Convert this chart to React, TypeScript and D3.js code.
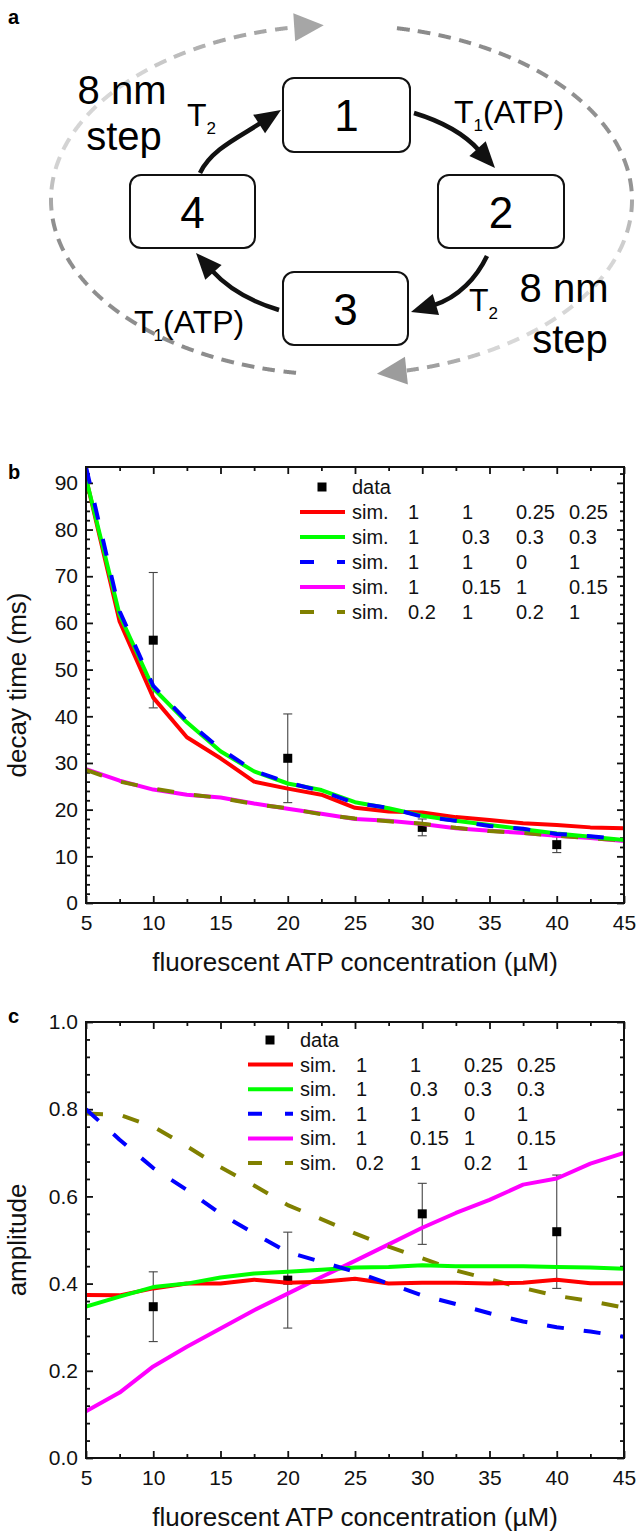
import React, { useEffect, useRef } from 'react';
import * as d3 from 'd3';

const W = 639;
const H = 1531;
const FONT = '"Liberation Sans", Arial, Helvetica, sans-serif';

// ATP concentrations (µM)
const simConc = [5, 7.5, 10, 12.5, 15, 17.5, 20, 22.5, 25, 27.5, 30, 32.5, 35, 37.5, 40, 42.5, 45];
const dataConc = [10, 20, 30, 40];

// panel b: decay time (ms)
const decayData = [56.3, 31.0, 16.2, 12.5];
const decayErr = [14.5, 9.5, 1.8, 1.7];
const decayRed = [91, 60.3, 44, 35.5, 31, 26, 24.5, 23.2, 20.4, 19.6, 19.4, 18.4, 17.8, 17.1, 16.7, 16.2, 16.0];
const decayGreen = [91, 61.7, 46, 38.7, 32.5, 28.2, 25.6, 24.2, 21.6, 20.3, 18.7, 17.6, 16.7, 15.8, 14.9, 14.2, 13.5];
const decayBlue = [93.4, 62.5, 46.5, 39, 33, 28.3, 25.8, 24, 21.4, 20.4, 18.5, 17.6, 16.5, 15.9, 14.8, 14.3, 13.6];
const decayMagenta = [28.7, 26.2, 24.3, 23.2, 22.6, 21.3, 20.2, 19.1, 18.0, 17.6, 16.9, 16.0, 15.5, 15.0, 14.4, 13.9, 13.3];
const decayOlive = [28.5, 26.0, 24.5, 23.3, 22.5, 21.2, 20.3, 19.0, 18.1, 17.5, 17.0, 16.1, 15.4, 15.0, 14.4, 13.9, 13.4];

// panel c: amplitude
const ampData = [0.347, 0.408, 0.56, 0.519];
const ampErr = [0.08, 0.11, 0.07, 0.13];
const ampRed = [0.374, 0.373, 0.389, 0.40, 0.40, 0.409, 0.402, 0.404, 0.411, 0.40, 0.402, 0.402, 0.40, 0.402, 0.409, 0.401, 0.401];
const ampGreen = [0.347, 0.37, 0.392, 0.40, 0.414, 0.423, 0.427, 0.432, 0.437, 0.438, 0.442, 0.44, 0.44, 0.44, 0.438, 0.437, 0.434];
const ampBlue = [0.80, 0.73, 0.665, 0.615, 0.56, 0.515, 0.472, 0.45, 0.427, 0.40, 0.373, 0.353, 0.332, 0.313, 0.30, 0.29, 0.278];
const ampMagenta = [0.107, 0.15, 0.21, 0.255, 0.297, 0.339, 0.377, 0.415, 0.452, 0.49, 0.528, 0.562, 0.592, 0.627, 0.641, 0.675, 0.70];
const ampOlive = [0.79, 0.787, 0.76, 0.715, 0.667, 0.625, 0.58, 0.548, 0.515, 0.485, 0.458, 0.43, 0.41, 0.39, 0.372, 0.36, 0.345];

const xTicks = [5, 10, 15, 20, 25, 30, 35, 40, 45];
const xMinor = [7.5, 12.5, 17.5, 22.5, 27.5, 32.5, 37.5, 42.5];
const decayTicks = [0, 10, 20, 30, 40, 50, 60, 70, 80, 90];
const ampTicks = [0, 0.2, 0.4, 0.6, 0.8, 1.0];

const seriesColors = ['#ff0000', '#00ff00', '#0000ff', '#ff00ff', '#808000'];
const seriesDashed = [false, false, true, false, true];
const drawOrder = [3, 4, 0, 1, 2];
const legendRows = [
  ['sim.', '1', '1', '0.25', '0.25'],
  ['sim.', '1', '0.3', '0.3', '0.3'],
  ['sim.', '1', '1', '0', '1'],
  ['sim.', '1', '0.15', '1', '0.15'],
  ['sim.', '0.2', '1', '0.2', '1'],
];
const legendCols = [0, 56, 110, 164, 217];

// panel a: kinetic scheme
const states = [
  { label: '1', x: 283, y: 78, w: 127, h: 74 },
  { label: '2', x: 438, y: 175, w: 126, h: 73 },
  { label: '3', x: 283, y: 272, w: 125, h: 73 },
  { label: '4', x: 130, y: 175, w: 125, h: 73 },
];
const transitions = [
  { p0: [414, 113], d0: [0.96, 0.29], p1: [495, 168], d1: [0.67, 0.74] },
  { p0: [487, 256], d0: [-0.43, 0.9], p1: [411, 312], d1: [-0.96, 0.29] },
  { p0: [279, 310], d0: [-0.96, -0.29], p1: [196, 253], d1: [-0.67, -0.74] },
  { p0: [200, 173], d0: [0.43, -0.9], p1: [281, 110], d1: [0.84, -0.54] },
];
const ELL = { cx: 341.5, cy: 200, rx: 290.5, ry: 175 };

type Pt = [number, number];

function norm(v: Pt): Pt {
  const l = Math.hypot(v[0], v[1]);
  return [v[0] / l, v[1] / l];
}

function drawEllipseArc(g: any, t0: number, t1: number, color: (t: number) => string, arrowColor: string) {
  const n = 2000;
  const pts = d3.range(n + 1).map((i) => {
    const t = t0 + ((t1 - t0) * i) / n;
    const r = (t * Math.PI) / 180;
    return { t, x: ELL.cx + ELL.rx * Math.cos(r), y: ELL.cy + ELL.ry * Math.sin(r), s: 0 };
  });
  for (let i = 1; i <= n; i++) {
    pts[i].s = pts[i - 1].s + Math.hypot(pts[i].x - pts[i - 1].x, pts[i].y - pts[i - 1].y);
  }
  const arrowLen = 30;
  const stop = pts[n].s - arrowLen;
  const dash = 13;
  const gap = 8;
  for (let s = 0; s < stop; s += dash + gap) {
    const e = Math.min(s + dash, stop);
    const seg = pts.filter((p) => p.s >= s && p.s <= e);
    if (seg.length < 2) continue;
    const mid = seg[Math.floor(seg.length / 2)];
    g.append('path')
      .attr('d', d3.line()(seg.map((p) => [p.x, p.y] as Pt)))
      .attr('fill', 'none')
      .attr('stroke', color(mid.t))
      .attr('stroke-width', 4);
  }
  const tip = pts[n];
  const baseP = pts.find((p) => p.s >= stop)!;
  const dir = norm([tip.x - baseP.x, tip.y - baseP.y]);
  const perp: Pt = [-dir[1], dir[0]];
  const hw = 14;
  g.append('path')
    .attr('d', `M${tip.x},${tip.y}L${baseP.x + perp[0] * hw},${baseP.y + perp[1] * hw}L${baseP.x - perp[0] * hw},${baseP.y - perp[1] * hw}Z`)
    .attr('fill', arrowColor);
}

function drawScheme(svg: any) {
  const g = svg.append('g');

  const leftColor = d3.scaleLinear<string>()
    .domain([99, 172, 190, 225, 245, 267])
    .range(['#8c8c8c', '#8f8f8f', '#d2d2d2', '#d8d8d8', '#a8a8a8', '#a4a4a4'])
    .clamp(true);
  const rightColor = d3.scaleLinear<string>()
    .domain([281, 355, 378, 418, 430, 444])
    .range(['#8a8a8a', '#949494', '#d6d6d6', '#d8d8d8', '#a0a0a0', '#9c9c9c'])
    .clamp(true);
  drawEllipseArc(g, 99, 266.5, leftColor, '#a6a6a6');
  drawEllipseArc(g, 281, 443, rightColor, '#9c9c9c');

  // state boxes
  states.forEach((b) => {
    g.append('rect')
      .attr('x', b.x).attr('y', b.y).attr('width', b.w).attr('height', b.h)
      .attr('rx', 11)
      .attr('fill', '#fff').attr('stroke', '#111').attr('stroke-width', 2);
    g.append('text')
      .attr('x', b.x + b.w / 2).attr('y', b.y + b.h / 2 + 16)
      .attr('text-anchor', 'middle')
      .attr('font-family', FONT).attr('font-size', 44)
      .text(b.label);
  });

  // transitions
  transitions.forEach((a) => {
    const d0 = norm(a.d0 as Pt);
    const d1 = norm(a.d1 as Pt);
    const len = 26;
    const hw = 11;
    const base: Pt = [a.p1[0] - d1[0] * len, a.p1[1] - d1[1] * len];
    const h = Math.hypot(base[0] - a.p0[0], base[1] - a.p0[1]) / 3;
    const p = d3.path();
    p.moveTo(a.p0[0], a.p0[1]);
    p.bezierCurveTo(a.p0[0] + d0[0] * h, a.p0[1] + d0[1] * h, base[0] - d1[0] * h, base[1] - d1[1] * h, base[0] + d1[0] * 2, base[1] + d1[1] * 2);
    g.append('path').attr('d', p.toString()).attr('fill', 'none').attr('stroke', '#111').attr('stroke-width', 4.5);
    const perp: Pt = [-d1[1], d1[0]];
    g.append('path')
      .attr('d', `M${a.p1[0]},${a.p1[1]}L${base[0] + perp[0] * hw},${base[1] + perp[1] * hw}L${base[0] - perp[0] * hw},${base[1] - perp[1] * hw}Z`)
      .attr('fill', '#111');
  });

  const rate = (x: number, y: number, sub: string, rest: string) => {
    const t = g.append('text').attr('x', x).attr('y', y).attr('font-family', FONT).attr('font-size', 32);
    t.append('tspan').text('T');
    t.append('tspan').attr('font-size', 17).attr('dy', 8).text(sub);
    if (rest) t.append('tspan').attr('dy', -8).text(rest);
  };
  rate(454, 123, '1', '(ATP)');
  rate(187, 126, '2', '');
  rate(469, 311, '2', '');
  rate(134, 333, '1', '(ATP)');

  const step = (cx: number, y1: number, cx2: number, y2: number) => {
    g.append('text').attr('x', cx).attr('y', y1).attr('text-anchor', 'middle')
      .attr('font-family', FONT).attr('font-size', 40).text('8 nm');
    g.append('text').attr('x', cx2).attr('y', y2).attr('text-anchor', 'middle')
      .attr('font-family', FONT).attr('font-size', 40).text('step');
  };
  step(122, 104, 124, 150);
  step(564, 302, 570, 353);

  g.append('text').attr('x', 8).attr('y', 24)
    .attr('font-family', FONT).attr('font-weight', 'bold').attr('font-size', 20).text('a');
}

interface PanelOpts {
  top: number;
  bottom: number;
  yMax: number;
  yTicks: number[];
  yMinorStep: number;
  yFormat: (v: number) => string;
  series: number[][];
  data: number[];
  err: number[];
  yTitle: string;
  letter: string;
  letterY: number;
  legend: { y0: number; dy: number; lineX0: number; lineX1: number; sqX: number; textX: number };
  id: string;
}

function drawPanel(svg: any, o: PanelOpts) {
  const left = 86;
  const right = 624;
  const x = d3.scaleLinear().domain([5, 45]).range([left, right]);
  const y = d3.scaleLinear().domain([0, o.yMax]).range([o.bottom, o.top]);
  const g = svg.append('g');

  const yMinor = d3.range(0, o.yMax + 1e-9, o.yMinorStep).filter((v) => !o.yTicks.some((t) => Math.abs(t - v) < 1e-9));

  const styleAxis = (sel: any) => {
    sel.select('.domain').remove();
    sel.selectAll('.tick line').attr('stroke', '#111').attr('stroke-width', 1.8);
    sel.selectAll('.tick text').attr('font-family', FONT).attr('font-size', 21).attr('fill', '#111');
  };

  g.append('g').attr('transform', `translate(0,${o.bottom})`)
    .call(d3.axisBottom(x).tickValues(xTicks).tickSizeInner(-7).tickSizeOuter(0).tickPadding(12).tickFormat(d3.format('d')))
    .call(styleAxis);
  g.append('g').attr('transform', `translate(0,${o.bottom})`)
    .call(d3.axisBottom(x).tickValues(xMinor).tickSizeInner(-4).tickSizeOuter(0).tickFormat(() => ''))
    .call(styleAxis);
  g.append('g').attr('transform', `translate(0,${o.top})`)
    .call(d3.axisTop(x).tickValues(xTicks).tickSizeInner(-7).tickSizeOuter(0).tickFormat(() => ''))
    .call(styleAxis);
  g.append('g').attr('transform', `translate(0,${o.top})`)
    .call(d3.axisTop(x).tickValues(xMinor).tickSizeInner(-4).tickSizeOuter(0).tickFormat(() => ''))
    .call(styleAxis);
  g.append('g').attr('transform', `translate(${left},0)`)
    .call(d3.axisLeft(y).tickValues(o.yTicks).tickSizeInner(-7).tickSizeOuter(0).tickPadding(8).tickFormat(o.yFormat as any))
    .call(styleAxis);
  g.append('g').attr('transform', `translate(${left},0)`)
    .call(d3.axisLeft(y).tickValues(yMinor).tickSizeInner(-4).tickSizeOuter(0).tickFormat(() => ''))
    .call(styleAxis);
  g.append('g').attr('transform', `translate(${right},0)`)
    .call(d3.axisRight(y).tickValues(o.yTicks).tickSizeInner(-7).tickSizeOuter(0).tickFormat(() => ''))
    .call(styleAxis);
  g.append('g').attr('transform', `translate(${right},0)`)
    .call(d3.axisRight(y).tickValues(yMinor).tickSizeInner(-4).tickSizeOuter(0).tickFormat(() => ''))
    .call(styleAxis);

  // data with error bars
  const dg = g.append('g');
  dataConc.forEach((c, i) => {
    const cx = x(c);
    const y1 = y(o.data[i] - o.err[i]);
    const y2 = y(o.data[i] + o.err[i]);
    dg.append('line').attr('x1', cx).attr('x2', cx).attr('y1', y1).attr('y2', y2).attr('stroke', '#444').attr('stroke-width', 1.1);
    [y1, y2].forEach((yy) => {
      dg.append('line').attr('x1', cx - 4.5).attr('x2', cx + 4.5).attr('y1', yy).attr('y2', yy).attr('stroke', '#444').attr('stroke-width', 1.1);
    });
    dg.append('rect').attr('x', cx - 4.5).attr('y', y(o.data[i]) - 4.5).attr('width', 9).attr('height', 9).attr('fill', '#000');
  });

  // simulated curves
  svg.append('defs').append('clipPath').attr('id', `clip-${o.id}`)
    .append('rect').attr('x', left).attr('y', o.top - 2).attr('width', right - left).attr('height', o.bottom - o.top + 2);
  const line = d3.line<number>().x((_, i) => x(simConc[i])).y((v) => y(v));
  const lg = g.append('g').attr('clip-path', `url(#clip-${o.id})`);
  drawOrder.forEach((k) => {
    lg.append('path')
      .attr('d', line(o.series[k]))
      .attr('fill', 'none')
      .attr('stroke', seriesColors[k])
      .attr('stroke-width', 4)
      .attr('stroke-linejoin', 'round')
      .attr('stroke-dasharray', seriesDashed[k] ? '17,20' : null);
  });

  // frame
  g.append('rect').attr('x', left).attr('y', o.top).attr('width', right - left).attr('height', o.bottom - o.top)
    .attr('fill', 'none').attr('stroke', '#111').attr('stroke-width', 2);

  // legend
  const L = o.legend;
  const txt = (xx: number, yy: number, s: string) =>
    g.append('text').attr('x', xx).attr('y', yy + 7).attr('font-family', FONT).attr('font-size', 20).attr('fill', '#111').text(s);
  g.append('rect').attr('x', L.sqX - 4.5).attr('y', L.y0 - 4.5).attr('width', 9).attr('height', 9).attr('fill', '#000');
  txt(L.textX, L.y0, 'data');
  legendRows.forEach((row, i) => {
    const yy = L.y0 + (i + 1) * L.dy;
    g.append('line').attr('x1', L.lineX0).attr('x2', L.lineX1).attr('y1', yy).attr('y2', yy)
      .attr('stroke', seriesColors[i]).attr('stroke-width', 4)
      .attr('stroke-dasharray', seriesDashed[i] ? '14,23' : null);
    row.forEach((s, j) => txt(L.textX + legendCols[j], yy, s));
  });

  // titles
  g.append('text').attr('x', (left + right) / 2).attr('y', o.bottom + 68).attr('text-anchor', 'middle')
    .attr('font-family', FONT).attr('font-size', 26).attr('fill', '#111').text('fluorescent ATP concentration (µM)');
  g.append('text').attr('transform', `translate(26,${(o.top + o.bottom) / 2}) rotate(-90)`).attr('text-anchor', 'middle')
    .attr('font-family', FONT).attr('font-size', 26).attr('fill', '#111').text(o.yTitle);
  g.append('text').attr('x', 8).attr('y', o.letterY)
    .attr('font-family', FONT).attr('font-weight', 'bold').attr('font-size', 20).text(o.letter);
}

export default function App() {
  const ref = useRef<SVGSVGElement>(null);

  useEffect(() => {
    const svg = d3.select(ref.current);
    svg.selectAll('*').remove();

    drawScheme(svg);

    drawPanel(svg, {
      id: 'b',
      top: 467,
      bottom: 903,
      yMax: 93.4,
      yTicks: decayTicks,
      yMinorStep: 2,
      yFormat: d3.format('d'),
      series: [decayRed, decayGreen, decayBlue, decayMagenta, decayOlive],
      data: decayData,
      err: decayErr,
      yTitle: 'decay time (ms)',
      letter: 'b',
      letterY: 479,
      legend: { y0: 487, dy: 25, lineX0: 300, lineX1: 345, sqX: 322, textX: 352 },
    });

    drawPanel(svg, {
      id: 'c',
      top: 1022,
      bottom: 1458,
      yMax: 1.0,
      yTicks: ampTicks,
      yMinorStep: 0.04,
      yFormat: d3.format('.1f'),
      series: [ampRed, ampGreen, ampBlue, ampMagenta, ampOlive],
      data: ampData,
      err: ampErr,
      yTitle: 'amplitude',
      letter: 'c',
      letterY: 1023,
      legend: { y0: 1040, dy: 24.6, lineX0: 248, lineX1: 293, sqX: 270, textX: 300 },
    });
  }, []);

  return (
    <svg
      ref={ref}
      width={W}
      height={H}
      viewBox={`0 0 ${W} ${H}`}
      style={{ position: 'absolute', left: 0, top: 0, display: 'block', background: '#fff' }}
    />
  );
}
